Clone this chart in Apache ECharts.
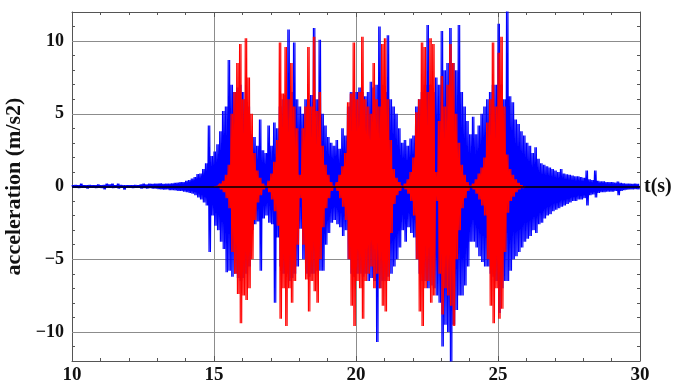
<!DOCTYPE html>
<html>
<head>
<meta charset="utf-8">
<script src="https://cdn.jsdelivr.net/npm/echarts@6/dist/echarts.min.js"></script>
<style>
  html, body { margin: 0; padding: 0; background: #fff; }
  #chart { width: 675px; height: 386px; }
</style>
</head>
<body>
<div id="chart"></div>
<script>
// envelope of the signals, read every 0.1 s (positive peak, then negative peak magnitude)
var dt = 0.1;
var blueStart = 10;
var blueUp = [
  0.10,0.12,0.10,0.20,0.10,0.10,0.12,0.10,0.10,0.15,
  0.10,0.12,0.20,0.15,0.20,0.10,0.20,0.12,0.10,0.10,
  0.10,0.10,0.12,0.10,0.15,0.20,0.15,0.20,0.18,0.20,
  0.20,0.22,0.18,0.20,0.20,0.22,0.25,0.27,0.30,0.30,
  0.40,0.45,0.55,0.65,0.85,0.90,1.20,1.60,4.20,2.10,
  2.40,2.90,3.80,5.20,5.50,8.70,7.00,6.50,6.80,7.00,
  6.50,6.00,5.50,3.60,3.40,2.80,4.60,2.50,2.30,4.20,
  2.80,4.40,4.00,5.50,6.00,6.30,10.80,6.50,9.90,6.00,
  5.50,5.00,6.00,6.00,6.30,10.90,6.00,10.10,5.00,4.20,
  3.40,3.00,2.80,3.20,2.60,4.00,3.50,5.50,6.50,6.50,
  6.50,6.80,6.50,6.20,6.50,7.20,6.80,7.00,11.00,7.00,
  6.50,10.40,6.00,5.50,5.00,4.00,3.00,3.20,2.80,3.30,
  3.50,5.50,6.00,6.50,7.00,11.10,7.00,6.50,7.50,7.00,
  10.70,8.00,8.50,10.90,8.50,8.00,11.10,6.50,5.50,4.50,
  3.60,4.80,3.60,4.20,5.00,5.50,6.00,6.50,7.00,7.00,
  11.20,7.00,6.00,12.50,6.20,5.80,4.60,4.30,3.80,3.50,
  3.00,2.80,2.30,2.70,1.90,1.60,1.50,1.40,1.30,1.20,
  1.10,1.00,1.20,0.90,0.85,0.80,0.75,0.70,0.70,0.65,
  0.60,1.10,0.50,0.45,1.10,0.40,0.35,0.35,0.30,0.30,
  0.30,0.28,0.35,0.25,0.22,0.20,0.20,0.18,0.20,0.18
];
var blueDn = [
  0.10,0.10,0.12,0.10,0.10,0.15,0.10,0.10,0.12,0.10,
  0.12,0.20,0.10,0.10,0.12,0.10,0.15,0.10,0.22,0.10,
  0.10,0.12,0.10,0.10,0.15,0.12,0.15,0.12,0.15,0.15,
  0.18,0.20,0.22,0.20,0.25,0.25,0.28,0.30,0.30,0.35,
  0.40,0.45,0.50,0.60,0.75,0.90,1.10,1.30,4.50,2.00,
  2.70,3.00,3.80,4.30,5.90,5.80,6.20,6.00,6.30,6.50,
  6.30,6.00,5.50,3.00,2.60,2.40,5.80,2.20,2.00,2.50,
  2.60,8.00,3.50,5.50,6.00,6.00,6.50,6.30,6.00,5.50,
  2.90,5.00,6.00,6.20,6.00,6.00,5.80,5.80,5.80,4.00,
  3.20,2.50,2.30,2.60,2.80,3.40,3.00,5.00,6.00,6.20,
  6.00,6.00,6.20,6.00,6.50,6.30,6.50,10.70,7.00,6.50,
  6.50,6.20,6.00,5.50,5.00,4.20,3.00,3.80,2.80,3.20,
  3.50,5.00,6.00,6.50,6.50,7.00,6.80,7.00,7.50,8.00,
  11.00,9.50,10.00,12.50,9.50,8.50,7.50,7.50,6.80,5.50,
  3.80,3.80,4.20,4.80,5.20,5.50,5.50,6.00,6.20,6.50,
  8.70,7.00,6.50,6.50,5.80,5.00,4.80,4.50,4.20,3.80,
  3.60,3.40,3.00,3.20,2.60,2.50,2.20,2.00,1.90,1.70,
  1.60,1.50,1.40,1.30,1.20,1.10,1.00,1.00,0.90,0.90,
  0.80,1.30,0.60,0.55,0.75,0.45,0.40,0.40,0.35,0.35,
  0.35,0.30,0.60,0.30,0.25,0.22,0.20,0.20,0.18,0.20
];
var redStart = 15;
var redUp = [
  0.00,0.05,0.20,0.40,0.80,1.50,5.00,6.50,8.50,9.80,
  6.00,10.20,7.50,5.00,2.30,1.10,0.60,0.20,0.03,0.40,
  0.90,1.70,3.20,9.90,6.40,9.60,6.00,8.50,5.50,4.00,
  0.80,4.00,5.50,9.60,5.50,10.30,5.20,6.50,2.80,1.50,
  0.80,0.30,0.03,0.30,0.80,1.40,2.30,5.80,6.40,9.90,
  6.00,6.50,10.30,6.00,5.50,5.00,8.50,6.00,5.50,9.80,
  10.20,6.00,3.20,1.20,0.60,0.30,0.05,0.20,0.50,1.00,
  2.00,5.10,6.00,9.90,9.60,6.50,10.20,9.80,1.00,4.50,
  7.60,5.50,7.00,9.80,8.50,5.00,3.00,1.50,0.80,0.30,
  0.05,0.20,0.50,0.90,1.30,2.00,4.40,6.00,9.90,5.50,
  9.20,10.30,5.50,2.20,1.20,0.80,0.50,0.25,0.10,0.00
];
var redDn = [
  0.00,0.05,0.20,0.40,0.80,1.50,4.50,6.00,7.40,9.40,
  7.50,7.80,7.00,5.00,2.30,1.10,0.60,0.20,0.03,0.40,
  0.90,1.70,2.70,9.10,7.00,9.60,7.00,8.00,6.50,4.00,
  0.80,4.00,6.40,8.60,6.50,7.20,8.00,5.00,2.80,1.50,
  0.80,0.30,0.03,0.30,0.80,1.40,2.30,5.00,8.20,9.60,
  6.50,7.00,9.10,6.50,6.00,5.50,7.00,6.00,7.00,8.20,
  8.60,6.50,3.20,1.20,0.60,0.30,0.05,0.20,0.50,1.00,
  2.00,5.00,8.60,9.60,7.00,6.50,8.00,7.50,1.00,6.00,
  8.80,7.00,7.50,8.20,9.60,5.00,3.00,1.50,0.80,0.30,
  0.05,0.20,0.50,0.90,1.30,2.00,5.00,8.20,9.40,7.00,
  9.10,8.40,4.50,1.80,1.00,0.70,0.40,0.20,0.10,0.00
];
var yGridLines = [-10, -5, 5, 10];

// each 0.1 s sample is drawn as two swings between its positive and negative peak
function zigzag(start, up, dn) {
  var pts = [];
  var q = dt / 4;
  for (var i = 0; i < up.length; i++) {
    var t = start + i * dt;
    pts.push([+t.toFixed(4), up[i]]);
    pts.push([+(t + q).toFixed(4), -dn[i]]);
    pts.push([+(t + 2 * q).toFixed(4), up[i]]);
    pts.push([+(t + 3 * q).toFixed(4), -dn[i]]);
  }
  return pts;
}

var serif = 'Liberation Serif';
var frame = '#555';

function tickLabel(v) {
  if (v % 5 !== 0) return '';
  return v < 0 ? '\u2212' + (-v) : String(v);
}

var myChart = echarts.init(document.getElementById('chart'));

var option = {
  animation: false,
  grid: { left: 72, right: 35, top: 12, bottom: 25, containLabel: false, outerBoundsMode: 'none' },
  xAxis: [
    {
      type: 'value', min: 10, max: 30, interval: 5, position: 'bottom',
      axisLine: { show: true, onZero: false, lineStyle: { color: frame, width: 1 } },
      axisTick: { inside: true, length: 5, lineStyle: { color: frame } },
      minorTick: { show: true, splitNumber: 5, length: 3, lineStyle: { color: frame } },
      splitLine: { show: true, lineStyle: { color: '#8c8c8c', width: 1 } },
      axisLabel: { fontFamily: serif, fontWeight: 'bold', fontSize: 19, color: '#111', margin: 5 }
    },
    {
      type: 'value', min: 10, max: 30, interval: 5, position: 'top',
      axisLine: { show: true, onZero: false, lineStyle: { color: frame, width: 1 } },
      axisTick: { inside: true, length: 5, lineStyle: { color: frame } },
      minorTick: { show: true, splitNumber: 5, length: 3, lineStyle: { color: frame } },
      splitLine: { show: false },
      axisLabel: { show: false }
    }
  ],
  yAxis: [
    {
      type: 'value', min: -12, max: 12, interval: 1, position: 'left',
      name: 'acceleration (m/s2)', nameLocation: 'middle', nameGap: 45, nameRotate: 90,
      nameTextStyle: { fontFamily: serif, fontWeight: 'bold', fontSize: 22, color: '#111' },
      axisLine: { show: true, onZero: false, lineStyle: { color: frame, width: 1 } },
      axisTick: { inside: true, length: 3, lineStyle: { color: frame } },
      splitLine: { show: false },
      axisLabel: { fontFamily: serif, fontWeight: 'bold', fontSize: 18, color: '#111', margin: 8, formatter: tickLabel }
    },
    {
      type: 'value', min: -12, max: 12, interval: 1, position: 'right',
      axisLine: { show: true, onZero: false, lineStyle: { color: frame, width: 1 } },
      axisTick: { inside: true, length: 3, lineStyle: { color: frame } },
      splitLine: { show: false },
      axisLabel: { show: false }
    }
  ],
  series: [
    {
      name: 'grid',
      type: 'line',
      data: [],
      markLine: {
        silent: true, symbol: 'none', z: 1, animation: false,
        label: { show: false },
        lineStyle: { color: '#8c8c8c', type: 'solid', width: 1 },
        data: yGridLines.map(function (v) { return { yAxis: v }; })
      }
    },
    {
      name: 'blue',
      type: 'line',
      data: zigzag(blueStart, blueUp, blueDn),
      symbol: 'none',
      z: 2,
      lineStyle: { color: '#0000ff', width: 1.15 }
    },
    {
      name: 'red',
      type: 'line',
      data: zigzag(redStart, redUp, redDn),
      symbol: 'none',
      z: 3,
      lineStyle: { color: '#ff0000', width: 1.15 },
      markLine: {
        silent: true, symbol: 'none', animation: false,
        lineStyle: { color: '#000', type: 'solid', width: 1.5 },
        label: {
          show: true, position: 'end', formatter: 't(s)', distance: 4,
          fontFamily: serif, fontWeight: 'bold', fontSize: 20, color: '#111'
        },
        data: [{ yAxis: 0 }]
      }
    }
  ]
};

myChart.setOption(option);

window.addEventListener('resize', function () {
  myChart.resize();
});
</script>
</body>
</html>
